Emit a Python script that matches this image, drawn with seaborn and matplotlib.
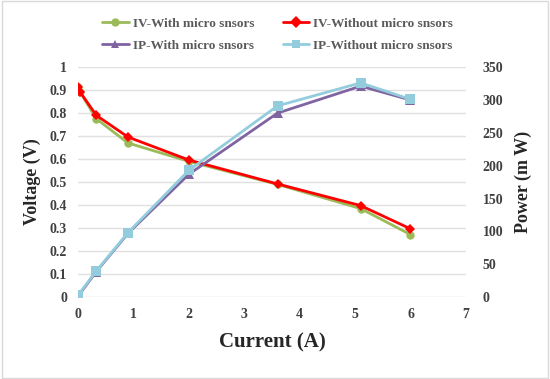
import matplotlib
matplotlib.use("Agg")
import matplotlib.pyplot as plt
import seaborn as sns
from matplotlib.lines import Line2D

# current (A)
current_iv = [0.0, 0.04, 0.33, 0.9, 2.0, 3.6, 5.1, 6.0]
current_ip = [0.0, 0.33, 0.9, 2.0, 3.6, 5.1, 6.0]

# voltage (V)
v_with = [0.915, 0.89, 0.775, 0.67, 0.59, 0.49, 0.385, 0.272]
v_without = [0.915, 0.89, 0.79, 0.696, 0.596, 0.492, 0.398, 0.297]

# power (mW)
p_with = [1.5, 39, 97, 187, 280, 321, 300]
p_without = [3, 40, 98, 193, 291, 326, 301]

labels = ["IV-With micro snsors", "IV-Without micro snsors",
          "IP-With micro snsors", "IP-Without micro snsors"]
colors = ["#9BBB59", "#FF0000", "#8064A2", "#93CDDD"]
markers = ["o", "D", "^", "s"]

sns.set_style("white")
plt.rcParams["font.family"] = ["Liberation Serif", "DejaVu Serif"]

fig = plt.figure(figsize=(5.5, 3.79), dpi=100)
ax = fig.add_axes([0.142, 0.216, 0.705, 0.607])
ax2 = ax.twinx()

sns.lineplot(x=current_iv, y=v_with, ax=ax, color=colors[0], marker=markers[0],
             markersize=6, markeredgewidth=0, linewidth=2)
sns.lineplot(x=current_iv, y=v_without, ax=ax, color=colors[1], marker=markers[1],
             markersize=5, markeredgewidth=0, linewidth=2)
sns.lineplot(x=current_ip, y=p_with, ax=ax2, color=colors[2], marker=markers[2],
             markersize=7, markeredgewidth=0, linewidth=2)
sns.lineplot(x=current_ip, y=p_without, ax=ax2, color=colors[3], marker=markers[3],
             markersize=7, markeredgewidth=0, linewidth=2)

ax.set_xlim(0, 7)
ax.set_ylim(0, 1)
ax2.set_ylim(0, 350)
ax.set_yticks([i / 10 for i in range(11)])
ax.set_yticklabels(["0"] + [f"{i / 10:g}" for i in range(1, 11)])
ax2.set_yticks(range(0, 351, 50))
ax.set_xticks(range(8))

ax.grid(axis="y", color="#E0E0E0", linewidth=1)
ax.set_axisbelow(True)
for a in (ax, ax2):
    for s in a.spines.values():
        s.set_visible(False)
    a.tick_params(length=0, labelsize=10, labelcolor="#404040")
ax.tick_params(axis="y", pad=8)
ax.tick_params(axis="x", pad=8)
ax2.tick_params(axis="y", pad=12)
for t in ax.get_xticklabels() + ax.get_yticklabels() + ax2.get_yticklabels():
    t.set_fontweight("bold")

ax.set_xlabel("Current (A)", fontsize=15, fontweight="bold", labelpad=8)
ax.set_ylabel("Voltage (V)", fontsize=13, fontweight="bold", labelpad=6)
ax2.set_ylabel("Power (m W)", fontsize=13, fontweight="bold", labelpad=8)

handles = [Line2D([], [], color=c, marker=m, markersize=6, markeredgewidth=0, linewidth=2)
           for c, m in zip(colors, markers)]
# legend fills column-wise: reorder so rows read IV..., IP...
order = [0, 2, 1, 3]
leg = fig.legend([handles[i] for i in order], [labels[i] for i in order],
                 loc="upper center", bbox_to_anchor=(0.505, 0.985),
                 ncol=2, frameon=False, fontsize=9.5, handlelength=2.0,
                 columnspacing=2.2, labelspacing=0.75, handletextpad=0.3)
for t in leg.get_texts():
    t.set_color("#595959")
    t.set_fontweight("bold")

fig.patches.append(plt.Rectangle((0.003, 0.003), 0.994, 0.994, transform=fig.transFigure,
                                 fill=False, edgecolor="#D9D9D9", linewidth=1))

fig.savefig("out.png", dpi=100)
